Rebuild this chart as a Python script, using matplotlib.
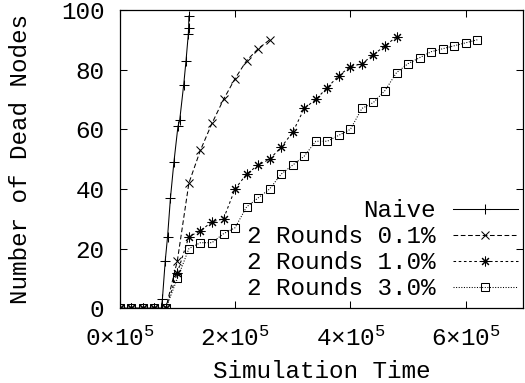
import matplotlib
matplotlib.use('Agg')
import matplotlib.pyplot as plt
from matplotlib.ticker import FixedLocator, FuncFormatter

plt.rcParams['font.family'] = ['Liberation Mono', 'DejaVu Sans']
plt.rcParams['mathtext.fontset'] = 'custom'
plt.rcParams['mathtext.rm'] = 'Liberation Mono'

# simulation time (raw units) and number of dead nodes
naive_t = [0, 20000, 40000, 60000, 72000, 74000, 79000, 83000, 88000, 94000,
           101000, 104000, 111000, 115000, 119000, 119500, 120000]
naive_n = [0, 0, 0, 0, 0, 3, 16, 24, 37, 49, 61, 63, 75, 83, 92, 94, 98]

r01_t = [0, 20000, 40000, 60000, 80000, 100000, 120000, 140000, 160000,
         180000, 200000, 220000, 240000, 260000]
r01_n = [0, 0, 0, 0, 0, 16, 42, 53, 62, 70, 77, 83, 87, 90]

r10_t = [0, 20000, 40000, 60000, 80000, 100000, 120000, 140000, 160000,
         180000, 200000, 220000, 240000, 260000, 280000, 300000, 320000,
         340000, 360000, 380000, 400000, 420000, 440000, 460000, 480000]
r10_n = [0, 0, 0, 0, 0, 12, 24, 26, 29, 30, 40, 45, 48, 50, 54, 59, 67,
         70, 74, 78, 81, 82, 85, 88, 91]

r30_t = [0, 20000, 40000, 60000, 80000, 100000, 120000, 140000, 160000,
         180000, 200000, 220000, 240000, 260000, 280000, 300000, 320000,
         340000, 360000, 380000, 400000, 420000, 440000, 460000, 480000,
         500000, 520000, 540000, 560000, 580000, 600000, 620000]
r30_n = [0, 0, 0, 0, 0, 10, 20, 22, 22, 25, 27, 34, 37, 40, 45, 48, 51,
         56, 56, 58, 60, 67, 69, 73, 79, 82, 84, 86, 87, 88, 89, 90]

labels = ['Naive', '2 Rounds 0.1%', '2 Rounds 1.0%', '2 Rounds 3.0%']

fs = 17.5
fig = plt.figure(figsize=(5.25, 3.83), dpi=100)
ax = fig.add_axes([0.228, 0.195, 0.769, 0.779])

lw = 0.75
ax.plot(naive_t, naive_n, color='black', lw=lw, marker='+', ms=7, mew=lw,
        label=labels[0])
ax.plot(r01_t, r01_n, color='black', lw=lw, marker='x', ms=6, mew=lw,
        dashes=(4.5, 2.5), label=labels[1])
ax.plot(r10_t, r10_n, color='black', lw=lw, marker=(8, 2, 0), ms=7, mew=lw,
        dashes=(2.5, 2.5), label=labels[2])
ax.plot(r30_t, r30_n, color='black', lw=lw, marker='s', ms=5.5, mew=lw,
        mfc='none', dashes=(1, 1.5), label=labels[3])

ax.set_xlim(0, 700000)
ax.set_ylim(0, 100)
ax.xaxis.set_major_locator(FixedLocator([0, 200000, 400000, 600000]))
ax.yaxis.set_major_locator(FixedLocator([0, 20, 40, 60, 80, 100]))
ax.xaxis.set_major_formatter(FuncFormatter(
    lambda v, p: r'$\mathregular{%d{\times}10^{5}}$' % round(v / 1e5)))
ax.tick_params(direction='in', length=5, width=0.75, top=True, right=True,
               labelsize=fs)
ax.tick_params(axis='x', pad=13)
ax.tick_params(axis='y', pad=11)
for s in ax.spines.values():
    s.set_linewidth(0.9)

ax.set_xlabel('Simulation Time', fontsize=fs, labelpad=7)
ax.set_ylabel('Number of Dead Nodes', fontsize=fs, labelpad=21)

leg = ax.legend(loc='upper right', bbox_to_anchor=(0.987, 0.365),
                frameon=False, markerfirst=False, fontsize=fs,
                handlelength=2.7, handletextpad=0.7, labelspacing=0.12,
                borderpad=0, borderaxespad=0)

fig.savefig('out.png', dpi=100)
